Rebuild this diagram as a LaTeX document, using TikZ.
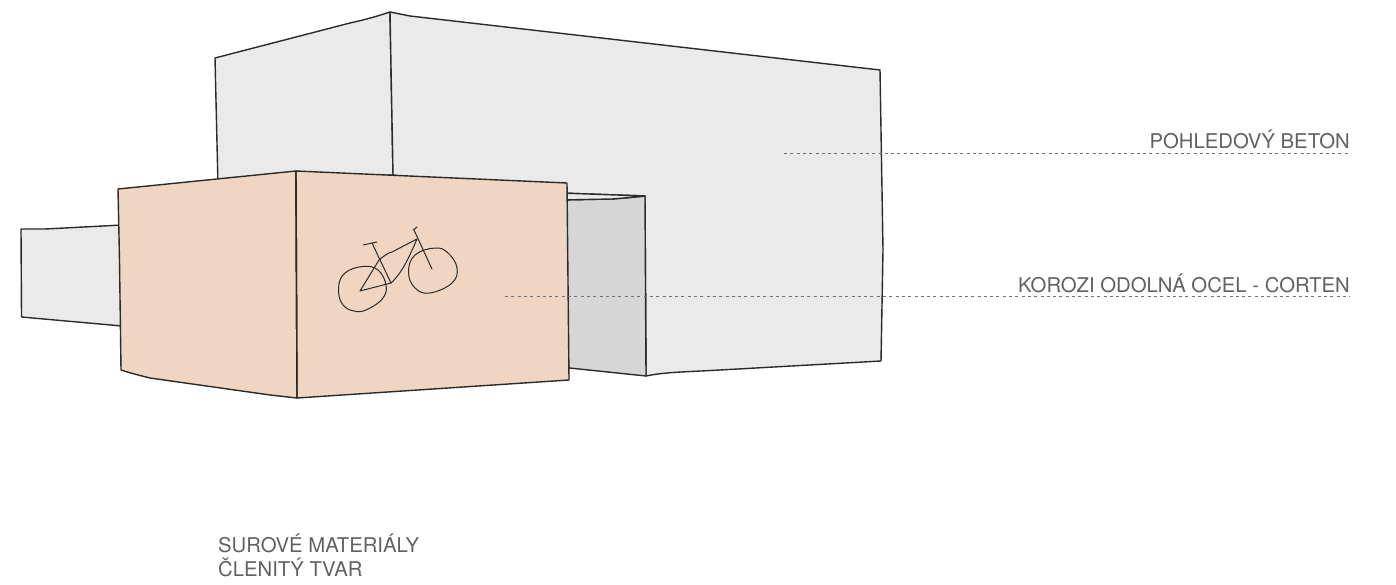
\documentclass[tikz,border=0pt]{standalone}
\usepackage{fontspec}
\setmainfont{TeX Gyre Heros}
\begin{document}
\begin{tikzpicture}[
  x=1pt,
  y=-1pt,
  concrete/.style={fill=concretegray, draw=inkdark, line width=1.4pt, line join=round},
  corten/.style={fill=cortenpeach, draw=inkdark, line width=1.4pt, line join=round},
  recess/.style={fill=recessgray, draw=inkdark, line width=1.4pt, line join=round},
  edgeline/.style={draw=inkdark, line width=1.4pt},
  bikeline/.style={draw=inkdark, line width=1pt, line cap=round, line join=round},
  leader/.style={draw=black!55, line width=0.9pt, dash pattern=on 3pt off 3.3pt},
  caption/.style={font=\fontsize{20.3}{24}\selectfont, text=black!62, inner sep=0pt}
]
  \definecolor{concretegray}{HTML}{EAEAEA}
  \definecolor{cortenpeach}{HTML}{F0D5C2}
  \definecolor{recessgray}{HTML}{D6D6D6}
  \definecolor{inkdark}{HTML}{2A2A2A}
  \useasboundingbox (0,0) rectangle (1396,585);

  % Back volume.
  \draw[concrete] (215,58) -- (350,23) .. controls (368,19) and (378,16) .. (390,12)
    -- (393,175) -- (218,186) -- cycle;
  \draw[concrete] (390,12) -- (410,16) -- (880,70) -- (883,250) -- (881,361)
    -- (720,370) .. controls (685,372) and (665,372) .. (646,376)
    -- (645,196) -- (560,193) -- (500,190) -- (393,175) -- cycle;

  % Side wing.
  \draw[concrete] (21,229) -- (45,229) -- (122,225) -- (122,326) -- (21.5,317) -- cycle;

  % Recess.
  \draw[recess] (560,200) -- (612,199) .. controls (625,198) and (635,197) .. (645,196)
    -- (646,376) -- (560,367) -- cycle;
  \draw[concrete] (560,193) -- (645,196) .. controls (635,197) and (625,198) .. (612,199)
    -- (560,200) -- cycle;

  % Corten volume.
  \draw[corten] (118,189) -- (296,171) -- (297,398) -- (270,395) -- (150,378)
    .. controls (138,375) and (130,373) .. (121,370) -- (119.5,260) -- cycle;
  \draw[corten] (296,171) -- (567,183) -- (569,380) -- (297,398) -- cycle;
  \draw[edgeline] (296,171) -- (297,398);

  % Bicycle.
  \draw[bikeline] plot[smooth cycle, tension=0.7] coordinates {(338.5,288) (345,273) (363,266.5)
    (378,270) (386,285) (383,298) (370,308) (357,311.5) (343,305)};
  \draw[bikeline] plot[smooth cycle, tension=0.7] coordinates {(408.5,272) (415,255) (435,248)
    (448,253) (457,268) (452,283) (430,293) (415,288)};
  \draw[bikeline] (360,291) -- (379,260) .. controls (385,255) and (388,253) .. (392,252) -- (417,239)
    .. controls (410,255) and (403,272) .. (391,283) -- cycle;
  \draw[bikeline] (372,243) -- (391,283);
  \draw[bikeline] (363,245) -- (377,242);
  \draw[bikeline] (414,230) -- (432,269);
  \draw[bikeline] (413,230) -- (417,227);

  % Labels.
  \node[caption, anchor=base east] (beton) at (1350,149) {POHLEDOVÝ BETON};
  \node[caption, anchor=base east] (ocel) at (1350,292) {KOROZI ODOLNÁ OCEL - CORTEN};
  \node[caption, anchor=base west] (suroveText) at (218,552) {SUROVÉ MATERIÁLY};
  \node[caption, anchor=base west] (clenityText) at (218,576) {ČLENITÝ TVAR};

  % Leaders.
  \coordinate (betonL) at (784,153);
  \coordinate (betonR) at (1350,153);
  \coordinate (ocelL) at (505,296);
  \coordinate (ocelR) at (1350,296);
  \draw[leader] (betonL) -- (betonR);
  \draw[leader] (ocelL) -- (ocelR);
\end{tikzpicture}
\end{document}
